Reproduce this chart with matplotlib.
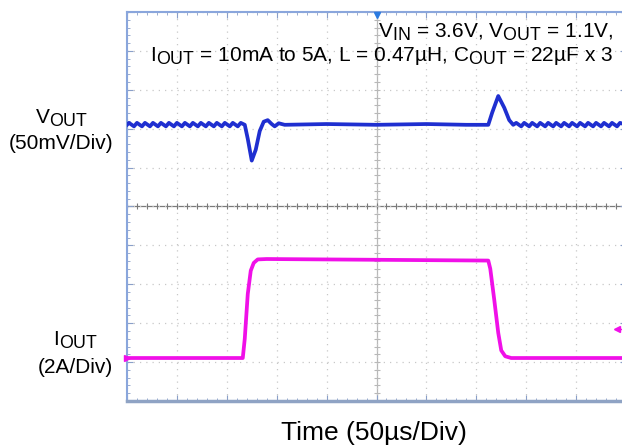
import numpy as np
import matplotlib.pyplot as plt
import matplotlib._mathtext as mathtext_internal
from matplotlib.ticker import MultipleLocator

plt.rcParams['font.family'] = ['Liberation Sans', 'DejaVu Sans']
plt.rcParams['mathtext.fontset'] = 'custom'
plt.rcParams['mathtext.rm'] = 'Liberation Sans'
# scope screenshots use nearly full-size subscripts
mathtext_internal.SHRINK_FACTOR = 0.85

# time axis in us (50us/div, 10 div on screen)
vout_t = [0, 2, 7, 10, 15, 18, 23, 26, 31, 34, 39, 42, 47, 50, 55, 58, 63, 66,
          71, 74, 79, 82, 87, 90, 95, 98, 103, 106, 111, 114, 118, 121, 125,
          129, 133, 137, 141, 145, 148, 152, 158, 200, 250, 300, 340, 362,
          366, 372, 378, 383, 387, 390, 395, 398, 403, 406, 411, 414, 419,
          422, 427, 430, 435, 438, 443, 446, 451, 454, 459, 462, 467, 470,
          475, 478, 483, 486, 491, 494, 500]
# output voltage deviation from 1.1V, mV
vout_mv = [0, 2.5, -2, 2.5, -2, 2.5, -2, 2.5, -2, 2.5, -2, 2.5, -2, 2.5, -2,
           2.5, -2, 2.5, -2, 2.5, -2, 2.5, -2, 2.5, -2, 2.5, -2, 2.5, -2, 2.5,
           0, -18, -46, -32, -8, 4, 6, 1, -2, 2, 0, 1, 0, 1, 0, 0,
           16, 37, 22, 6, 0, 2.5, -2, 2.5, -2, 2.5, -2, 2.5, -2, 2.5, -2,
           2.5, -2, 2.5, -2, 2.5, -2, 2.5, -2, 2.5, -2, 2.5, -2, 2.5, -2,
           2.5, -2, 2.5, 0]
# load current, A
iout_t = [0, 116, 118, 121, 124, 127, 131, 140, 250, 362, 364, 368, 372, 375,
          379, 385, 500]
iout_a = [0.01, 0.01, 1.0, 3.3, 4.5, 4.9, 5.08, 5.1, 5.06, 5.02, 4.6, 3.0,
          1.3, 0.4, 0.1, 0.01, 0.01]

V_DIV = 50.0    # mV/div
I_DIV = 2.0     # A/div
vout_pos = 2.1  # trace position, div
iout_pos = -3.9

W, H = 622, 448
fig = plt.figure(figsize=(W / 100, H / 100), dpi=100)
ax = fig.add_axes([127 / W, 47 / H, 499 / W, 389 / H])
ax.set_xlim(0, 500)
ax.set_ylim(-5, 5)

ax.xaxis.set_major_locator(MultipleLocator(50))
ax.xaxis.set_minor_locator(MultipleLocator(10))
ax.yaxis.set_major_locator(MultipleLocator(1))
ax.yaxis.set_minor_locator(MultipleLocator(0.2))
ax.tick_params(which='both', direction='in', top=True, right=True,
               labelbottom=False, labelleft=False, color='#8a9fc8')
ax.tick_params(which='major', length=4, width=0.8)
ax.tick_params(which='minor', length=2.5, width=0.6)
ax.grid(which='major', color='#c8c8c8', linestyle=(0, (1, 4)), lw=0.9)
for s in ax.spines.values():
    s.set_color('#8aa6dc')
    s.set_linewidth(1.5)
ax.spines['bottom'].set_color('#8fa3c4')
ax.spines['bottom'].set_linewidth(2.5)

# centre cross with small ticks
ax.axhline(0, color='#7a7a7a', lw=0.9, zorder=1)
ax.axvline(250, color='#b8b8b8', lw=0.9, zorder=1)
ax.plot(np.arange(0, 501, 10), np.zeros(51), '|', color='#7a7a7a', ms=4, mew=0.8)
ax.plot(np.full(51, 250), np.arange(-5, 5.01, 0.2), '_', color='#b8b8b8', ms=4, mew=0.8)

ax.plot(vout_t, vout_pos + np.array(vout_mv) / V_DIV, color='#1f2fd0', lw=2.7,
        solid_joinstyle='round', zorder=3)
ax.plot(iout_t, iout_pos + np.array(iout_a) / I_DIV, color='#f010e8', lw=2.7,
        solid_joinstyle='round', zorder=3)

# scope markers
ax.plot([250], [4.93], marker='v', color='#2a7ae0', ms=5, clip_on=False, zorder=4)
ax.plot([491], [-3.15], marker='<', color='#f010e8', ms=4, zorder=4)
ax.plot([491, 496], [-3.15, -3.15], color='#f010e8', lw=1, zorder=4)
ax.plot([0], [iout_pos], marker='>', color='#f010e8', ms=4, clip_on=False, zorder=4)


def px(x, y):
    return x / W, 1 - y / H


fig.text(*px(613, 38), r'$\mathregular{V_{IN}}$ = 3.6V, $\mathregular{V_{OUT}}$ = 1.1V,',
         ha='right', va='baseline', fontsize=15)
fig.text(*px(613, 61), r'$\mathregular{I_{OUT}}$ = 10mA to 5A, L = 0.47µH, $\mathregular{C_{OUT}}$ = 22µF x 3',
         ha='right', va='baseline', fontsize=15)

fig.text(*px(62, 118), r'$\mathregular{V_{OUT}}$', ha='center', va='center', fontsize=15)
fig.text(*px(61, 143), '(50mV/Div)', ha='center', va='center', fontsize=15)
fig.text(*px(76, 340), r'$\mathregular{I_{OUT}}$', ha='center', va='center', fontsize=15)
fig.text(*px(75, 367), '(2A/Div)', ha='center', va='center', fontsize=15)
fig.text(*px(374, 433), 'Time (50µs/Div)', ha='center', va='center', fontsize=19)

fig.savefig('out.png', dpi=100)
